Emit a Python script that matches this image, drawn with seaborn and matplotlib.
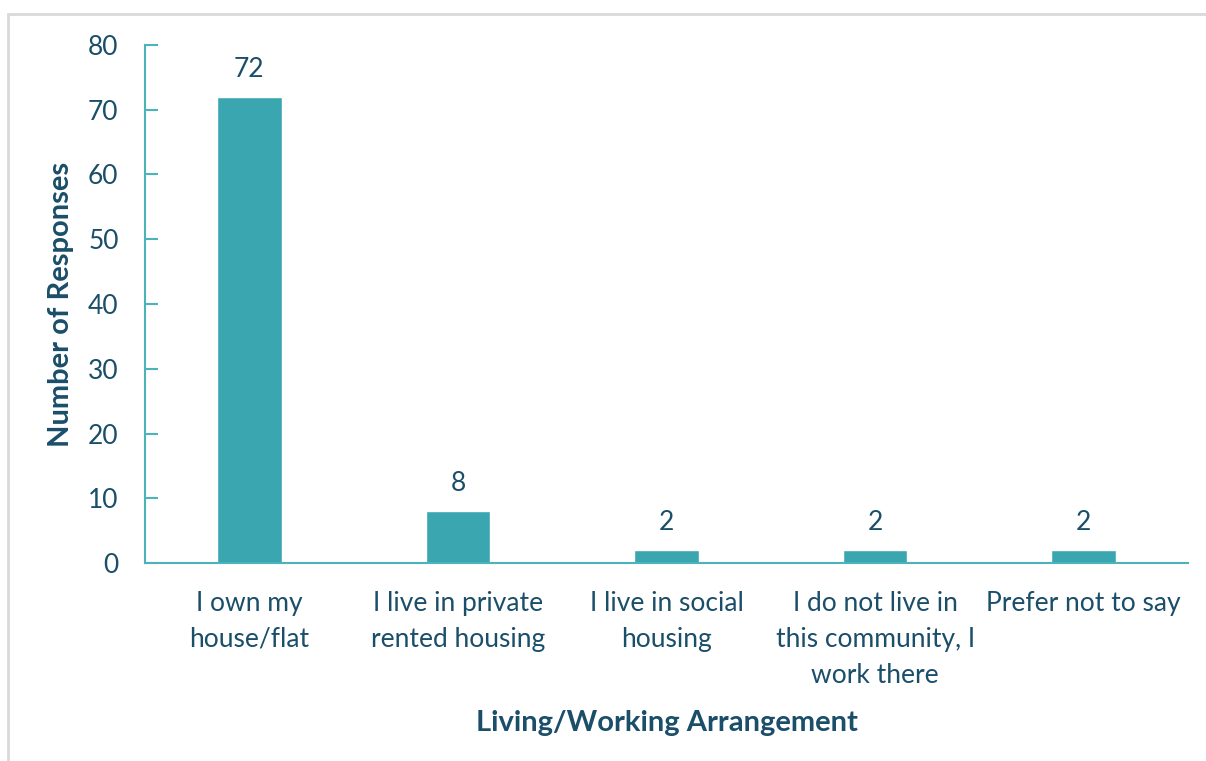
import matplotlib
matplotlib.use("Agg")
import matplotlib.pyplot as plt
import seaborn as sns
import pandas as pd
from matplotlib.patches import Rectangle

categories = [
    "I own my\nhouse/flat",
    "I live in private\nrented housing",
    "I live in social\nhousing",
    "I do not live in\nthis community, I\nwork there",
    "Prefer not to say",
]
responses = [72, 8, 2, 2, 2]
y_ticks = [0, 10, 20, 30, 40, 50, 60, 70, 80]

BAR = "#3AA6B0"
AXIS = "#4DB3BA"
TEXT = "#1A4E69"

sns.set_theme(style="white")
plt.rcParams["font.family"] = ["Lato", "DejaVu Sans"]

df = pd.DataFrame({"category": categories, "responses": responses})

fig = plt.figure(figsize=(12.06, 7.61), dpi=100)
ax = fig.add_axes([145 / 1206, 1 - 563 / 761, (1188 - 145) / 1206, (563 - 45) / 761])

sns.barplot(data=df, x="category", y="responses", color=BAR, width=0.31,
            saturation=1, ax=ax)

ax.set_ylim(0, 80)
ax.set_yticks(y_ticks)
ax.set_xlim(-0.5, len(categories) - 0.5)

for sp in ["top", "right"]:
    ax.spines[sp].set_visible(False)
for sp in ["left", "bottom"]:
    ax.spines[sp].set_color(AXIS)
    ax.spines[sp].set_linewidth(1.5)

ax.tick_params(axis="y", direction="in", length=9, width=1.5, color=AXIS,
               labelsize=19, labelcolor=TEXT, pad=19, left=True)
ax.tick_params(axis="x", length=0, labelsize=19, labelcolor=TEXT, pad=20)
for lbl in ax.get_xticklabels():
    lbl.set_linespacing(1.55)
ax.grid(False)

for i, v in enumerate(responses):
    ax.annotate(str(v), (i, v), xytext=(0, 11), textcoords="offset points",
                ha="center", va="bottom", fontsize=19, color=TEXT)

ax.set_xlabel("Living/Working Arrangement", fontsize=21, fontweight="bold",
              color=TEXT, labelpad=16)
ax.set_ylabel("Number of Responses", fontsize=21, fontweight="bold",
              color=TEXT, labelpad=10)

# light frame around the chart area
fig.patches.append(Rectangle((8 / 1206, -0.01), 1.2, 1 - 14 / 761 + 0.01,
                             transform=fig.transFigure, fill=False,
                             edgecolor="#D9D9D9", linewidth=2))

fig.savefig("out.png", dpi=100, facecolor="white")
